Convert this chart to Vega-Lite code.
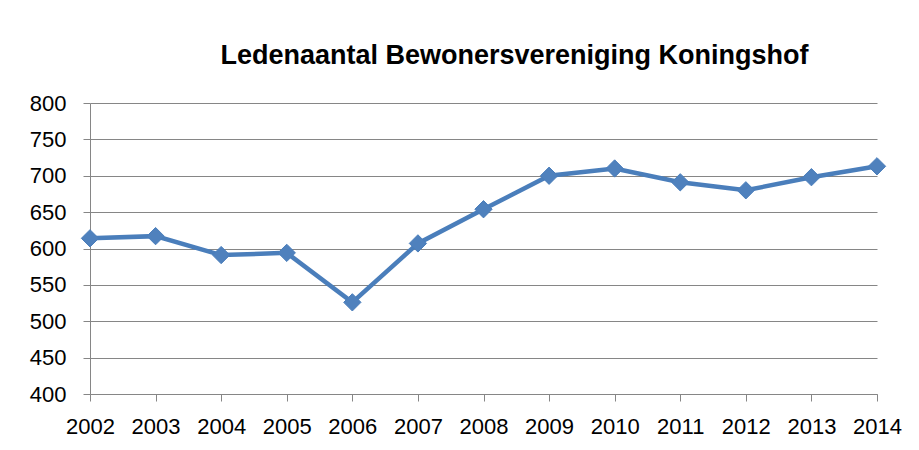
{
  "$schema": "https://vega.github.io/schema/vega-lite/v6.json",
  "width": 787,
  "height": 291,
  "autosize": "none",
  "padding": {"left": 90, "top": 103, "right": 42, "bottom": 56},
  "background": "white",
  "title": {
    "text": "Ledenaantal Bewonersvereniging Koningshof",
    "font": "Liberation Sans",
    "fontSize": 27,
    "fontWeight": "bold",
    "color": "black",
    "anchor": "middle",
    "dx": 31,
    "offset": 22
  },
  "data": {
    "values": [
      {"year": "2002", "leden": 614},
      {"year": "2003", "leden": 617},
      {"year": "2004", "leden": 591},
      {"year": "2005", "leden": 594},
      {"year": "2006", "leden": 526},
      {"year": "2007", "leden": 607},
      {"year": "2008", "leden": 654},
      {"year": "2009", "leden": 700},
      {"year": "2010", "leden": 710},
      {"year": "2011", "leden": 691},
      {"year": "2012", "leden": 680},
      {"year": "2013", "leden": 698},
      {"year": "2014", "leden": 713}
    ]
  },
  "encoding": {
    "x": {
      "field": "year",
      "type": "ordinal",
      "scale": {"type": "point", "padding": 0},
      "axis": {
        "title": null,
        "labelAngle": 0,
        "labelFont": "Liberation Sans",
        "labelFontSize": 22,
        "labelColor": "black",
        "labelPadding": 15,
        "tickSize": 7,
        "tickColor": "#868686",
        "domainColor": "#868686",
        "grid": false
      }
    },
    "y": {
      "field": "leden",
      "type": "quantitative",
      "scale": {"domain": [400, 800], "nice": false, "zero": false},
      "axis": {
        "title": null,
        "values": [400, 450, 500, 550, 600, 650, 700, 750, 800],
        "labelFont": "Liberation Sans",
        "labelFontSize": 22,
        "labelColor": "black",
        "labelPadding": 17,
        "tickSize": 7,
        "tickColor": "#868686",
        "domainColor": "#868686",
        "grid": true,
        "gridColor": "#868686",
        "gridOpacity": 1
      }
    }
  },
  "layer": [
    {"mark": {"type": "line", "color": "#4a7ebb", "strokeWidth": 4.5}},
    {"mark": {"type": "point", "shape": "diamond", "filled": true, "size": 300, "color": "#4f81bd", "opacity": 1, "stroke": "#4a7ebb", "strokeWidth": 1}}
  ],
  "config": {"view": {"stroke": null}}
}
